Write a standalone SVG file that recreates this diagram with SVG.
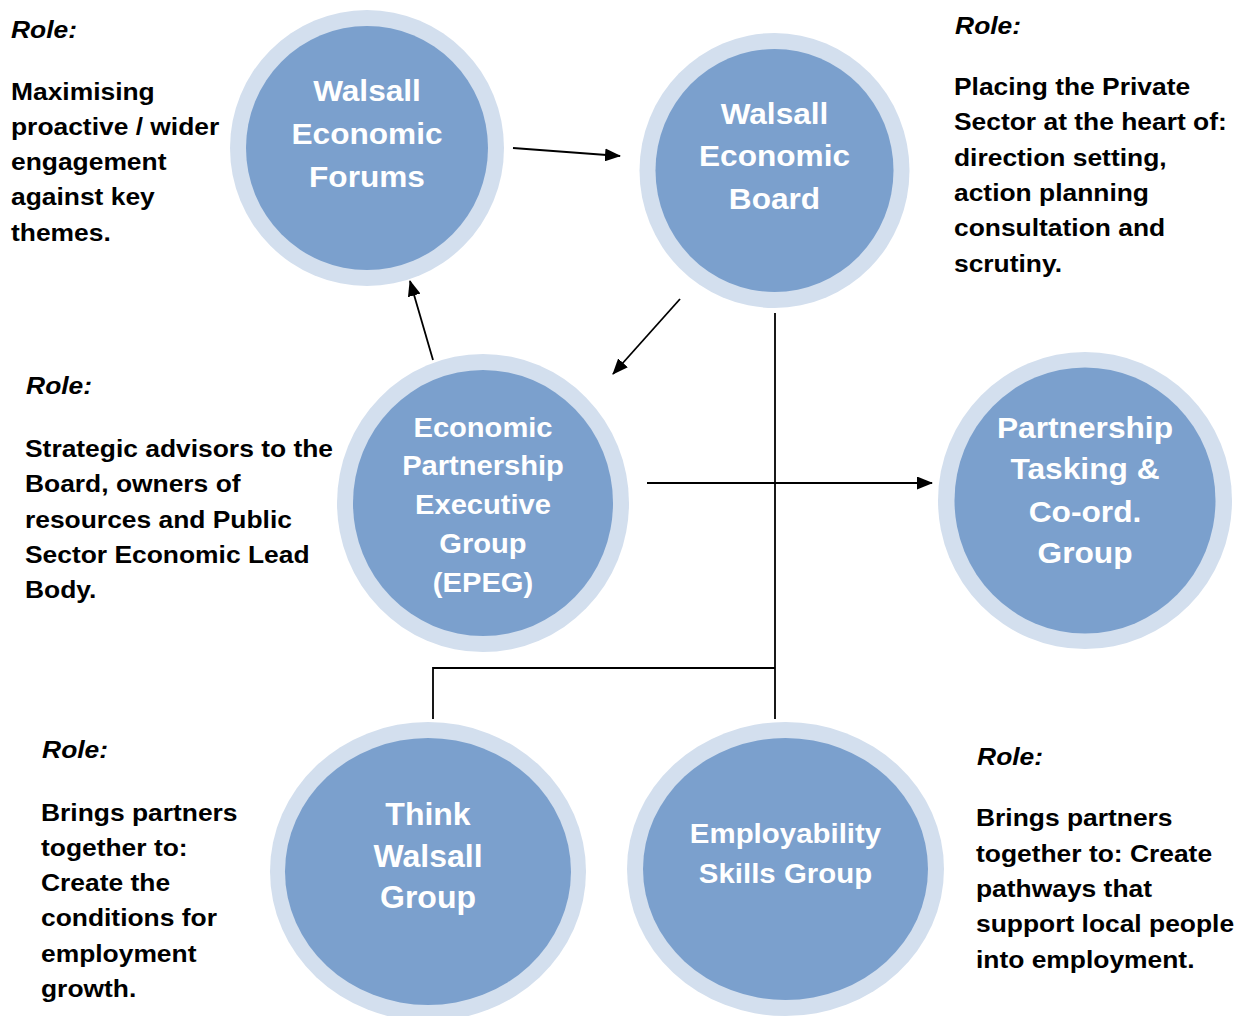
<svg xmlns="http://www.w3.org/2000/svg" width="1239" height="1016" viewBox="0 0 1239 1016">
<style>
.ring{fill:#D3DFEE}
.core{fill:#7BA0CD}
.nt{font-family:"Liberation Sans",Arial,sans-serif;font-weight:bold;fill:#FFFFFF;text-anchor:middle}
.rt{font-family:"Liberation Sans",Arial,sans-serif;font-weight:bold;font-size:24px;fill:#000000}
.rl{font-style:italic}
.ln{stroke:#000000;stroke-width:1.8;fill:none}
</style>
<defs>
<marker id="ah" markerUnits="userSpaceOnUse" markerWidth="16" markerHeight="13" refX="15" refY="6.5" orient="auto">
<path d="M0,0 L16,6.5 L0,13 z" fill="#000000"/>
</marker>
</defs>
<rect width="1239" height="1016" fill="#FFFFFF"/>

<g id="connectors">
<line class="ln" x1="513" y1="148" x2="620" y2="156" marker-end="url(#ah)"/>
<line class="ln" x1="433" y1="360" x2="410" y2="281" marker-end="url(#ah)"/>
<line class="ln" x1="680" y1="299" x2="613" y2="374" marker-end="url(#ah)"/>
<line class="ln" x1="647" y1="483" x2="932" y2="483" marker-end="url(#ah)"/>
<polyline class="ln" points="775,313 775,719"/>
<polyline class="ln" points="775,668 433,668 433,719"/>
</g>

<g id="node-forums">
<ellipse class="ring" cx="367" cy="148" rx="137" ry="138"/>
<ellipse class="core" cx="367" cy="148" rx="121" ry="122"/>
<text class="nt" font-size="29" transform="translate(367,0) scale(1.09,1)"><tspan x="0" y="101">Walsall</tspan><tspan x="0" y="144">Economic</tspan><tspan x="0" y="187">Forums</tspan></text>
</g>

<g id="node-board">
<ellipse class="ring" cx="774.5" cy="170.5" rx="135" ry="137.5"/>
<ellipse class="core" cx="774.5" cy="170.5" rx="119" ry="121.5"/>
<text class="nt" font-size="29" transform="translate(774.5,0) scale(1.09,1)"><tspan x="0" y="124">Walsall</tspan><tspan x="0" y="166">Economic</tspan><tspan x="0" y="209">Board</tspan></text>
</g>

<g id="node-epeg">
<ellipse class="ring" cx="483" cy="503" rx="146" ry="149"/>
<ellipse class="core" cx="483" cy="503" rx="130" ry="133"/>
<text class="nt" font-size="28" transform="translate(483,0) scale(1.04,1)"><tspan x="0" y="437">Economic</tspan><tspan x="0" y="475">Partnership</tspan><tspan x="0" y="514">Executive</tspan><tspan x="0" y="553">Group</tspan><tspan x="0" y="592">(EPEG)</tspan></text>
</g>

<g id="node-partnership">
<ellipse class="ring" cx="1085" cy="500.5" rx="147" ry="148.5"/>
<ellipse class="core" cx="1085" cy="500.5" rx="130.5" ry="133"/>
<text class="nt" font-size="30" transform="translate(1085,0) scale(1.056,1)"><tspan x="0" y="438">Partnership</tspan><tspan x="0" y="479">Tasking &amp;</tspan><tspan x="0" y="522">Co-ord.</tspan><tspan x="0" y="563">Group</tspan></text>
</g>

<g id="node-think">
<ellipse class="ring" cx="428" cy="871.5" rx="158" ry="149.5"/>
<ellipse class="core" cx="428" cy="871.5" rx="143" ry="133.5"/>
<text class="nt" font-size="32"><tspan x="428" y="825">Think</tspan><tspan x="428" y="867">Walsall</tspan><tspan x="428" y="908">Group</tspan></text>
</g>

<g id="node-employability">
<ellipse class="ring" cx="785.5" cy="869" rx="158.5" ry="147"/>
<ellipse class="core" cx="785.5" cy="869" rx="142.5" ry="131"/>
<text class="nt" font-size="27" transform="translate(785.5,0) scale(1.09,1)"><tspan x="0" y="843">Employability</tspan><tspan x="0" y="883">Skills Group</tspan></text>
</g>

<g id="role-forums" transform="translate(11,0) scale(1.1,1)">
<text class="rt rl" x="0" y="38">Role:</text>
<text class="rt"><tspan x="0" y="100">Maximising</tspan><tspan x="0" y="135">proactive / wider</tspan><tspan x="0" y="170">engagement</tspan><tspan x="0" y="205">against key</tspan><tspan x="0" y="241">themes.</tspan></text>
</g>

<g id="role-board" transform="translate(954,0) scale(1.1,1)">
<text class="rt rl" x="1" y="34">Role:</text>
<text class="rt"><tspan x="0" y="95">Placing the Private</tspan><tspan x="0" y="130">Sector at the heart of:</tspan><tspan x="0" y="166">direction setting,</tspan><tspan x="0" y="201">action planning</tspan><tspan x="0" y="236">consultation and</tspan><tspan x="0" y="272">scrutiny.</tspan></text>
</g>

<g id="role-epeg" transform="translate(25,0) scale(1.1,1)">
<text class="rt rl" x="1" y="394">Role:</text>
<text class="rt"><tspan x="0" y="457">Strategic advisors to the</tspan><tspan x="0" y="492">Board, owners of</tspan><tspan x="0" y="528">resources and Public</tspan><tspan x="0" y="563">Sector Economic Lead</tspan><tspan x="0" y="598">Body.</tspan></text>
</g>

<g id="role-think" transform="translate(41,0) scale(1.1,1)">
<text class="rt rl" x="1" y="758">Role:</text>
<text class="rt"><tspan x="0" y="821">Brings partners</tspan><tspan x="0" y="856">together to:</tspan><tspan x="0" y="891">Create the</tspan><tspan x="0" y="926">conditions for</tspan><tspan x="0" y="962">employment</tspan><tspan x="0" y="997">growth.</tspan></text>
</g>

<g id="role-employability" transform="translate(976,0) scale(1.1,1)">
<text class="rt rl" x="1" y="765">Role:</text>
<text class="rt"><tspan x="0" y="826">Brings partners</tspan><tspan x="0" y="862">together to: Create</tspan><tspan x="0" y="897">pathways that</tspan><tspan x="0" y="932">support local people</tspan><tspan x="0" y="968">into employment.</tspan></text>
</g>
</svg>
